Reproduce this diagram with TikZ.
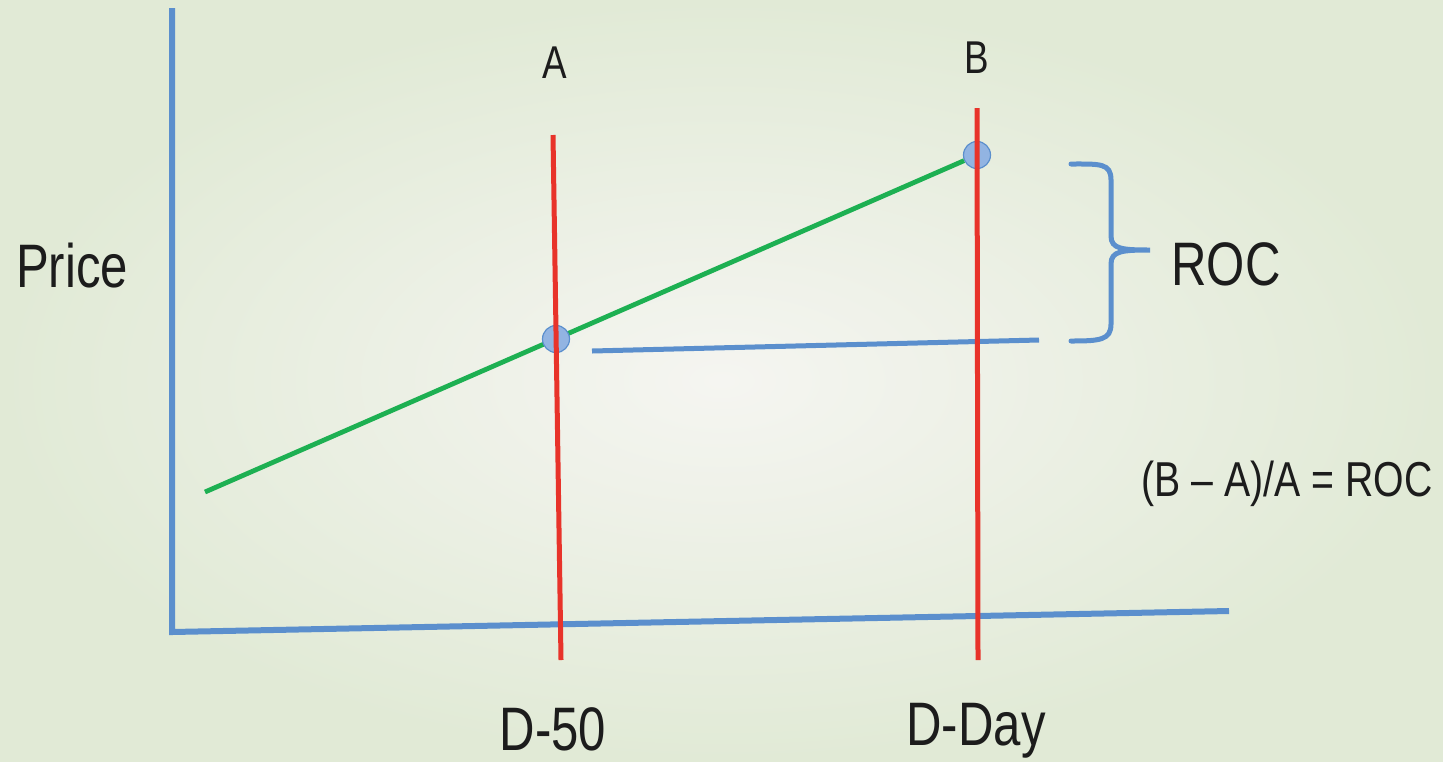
\documentclass[tikz,border=0pt]{standalone}
\usepackage{fontspec}
\setmainfont[FakeStretch=0.8]{Liberation Sans}
\definecolor{axisblue}{RGB}{91,143,205}
\definecolor{markred}{RGB}{232,51,42}
\definecolor{trendgreen}{RGB}{29,176,82}
\definecolor{dotfill}{RGB}{146,180,226}
\definecolor{bginner}{RGB}{245,245,241}
\definecolor{bgouter}{RGB}{225,234,214}
\definecolor{inkblack}{RGB}{28,28,28}

\begin{document}
\begin{tikzpicture}[x=0.5pt, y=-0.5pt,
    axis/.style={color=axisblue, line width=3pt},
    marker/.style={color=markred, line width=2.5pt},
    trend/.style={color=trendgreen, line width=2.4pt},
    dot/.style={circle, draw=axisblue, fill=dotfill, line width=0.6pt, minimum size=13.5pt, inner sep=0pt},
    biglabel/.style={font=\fontsize{30.7}{36}\selectfont, text=inkblack, anchor=base, inner sep=0pt},
    smalllabel/.style={font=\fontsize{23}{27}\selectfont, text=inkblack, anchor=base, inner sep=0pt}]

    % 1. Background
    \shade[inner color=bginner, outer color=bgouter] (0,0) rectangle (1443,761);
    \useasboundingbox (0,0) rectangle (1443,761);

    % 2. Axes
    \coordinate (origin) at (172,632);
    \coordinate (ytop) at (172,8);
    \coordinate (xend) at (1229,611);
    \draw[axis] (ytop) -- (origin) -- (xend);

    % 3. Price trend and level of A
    \coordinate (trendstart) at (205,492);
    \node[dot] (ptB) at (977,155) {};
    \draw[trend] (trendstart) -- (ptB);
    \node[dot] (ptA) at (556,339) {};
    \coordinate (levelstart) at (592,351);
    \coordinate (levelend) at (1039,340);
    \draw[axis, line width=2.5pt] (levelstart) -- (levelend);

    % 4. Day markers
    \coordinate (redAtop) at (553,135);
    \coordinate (redAbot) at (561,660);
    \coordinate (redBtop) at (977,108);
    \coordinate (redBbot) at (978,660);
    \draw[marker] (redAtop) -- (redAbot);
    \draw[marker] (redBtop) -- (redBbot);

    % 5. Brace for the change
    \coordinate (bracetip) at (1150,250);
    \draw[axis, line width=2.5pt, line cap=round]
        (1071,164) .. controls (1100,164) and (1111,163) .. (1111,180) -- (1111,236)
        .. controls (1111,249) and (1122,250) .. (bracetip)
        .. controls (1122,250) and (1111,251) .. (1111,264) -- (1111,324)
        .. controls (1111,340) and (1100,341) .. (1071,341);

    % 6. Labels
    \node[smalllabel] (lblA) at (555,78) {A};
    \node[smalllabel] (lblB) at (977,73) {B};
    \node[biglabel] (lblprice) at (72,287) {Price};
    \node[biglabel, anchor=base west] (lblroc) at (1171,285) {ROC};
    \node[biglabel] (lbld50) at (553,750) {D-50};
    \node[biglabel] (lblday) at (976,745) {D-Day};
    \node[smalllabel, font=\fontsize{24.5}{29}\selectfont] (lblformula) at (1287,496) {(B – A)/A = ROC};

\end{tikzpicture}
\end{document}
